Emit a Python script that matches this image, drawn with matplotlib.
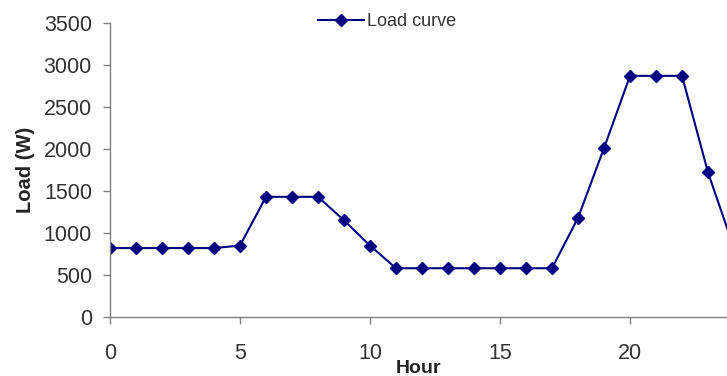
import matplotlib
matplotlib.use('Agg')
import matplotlib.pyplot as plt

# Hourly load profile
hours = list(range(25))
load = [820, 820, 820, 820, 820, 850, 1430, 1430, 1430, 1150, 850,
        580, 580, 580, 580, 580, 580, 580, 1180, 2010, 2870, 2870, 2870,
        1720, 820]
x_ticks = [0, 5, 10, 15, 20]
y_ticks = [0, 500, 1000, 1500, 2000, 2500, 3000, 3500]

plt.rcParams['font.family'] = ['Liberation Sans', 'DejaVu Sans']

fig = plt.figure(figsize=(7.27, 3.76), dpi=100)
ax = fig.add_axes([0.1513, 0.157, 0.8487, 0.782])

ax.plot(hours, load, color='#000080', marker='D', markersize=6,
        linewidth=1.5, label='Load curve')

ax.set_xlim(0, 23.73)
ax.set_ylim(0, 3500)
ax.set_xticks(x_ticks)
ax.set_yticks(y_ticks)

for side in ['top', 'right']:
    ax.spines[side].set_visible(False)
for side in ['left', 'bottom']:
    ax.spines[side].set_color('#808080')
    ax.spines[side].set_linewidth(1.0)

ax.tick_params(axis='both', colors='#808080', length=5, width=1.0,
               labelsize=15.5, labelcolor='#333333', direction='out')
ax.tick_params(axis='x', pad=14)
ax.tick_params(axis='y', pad=8)

ax.set_xlabel('Hour', fontsize=14, fontweight='bold', color='#222222',
              labelpad=-3)
ax.set_ylabel('Load (W)', fontsize=14.5, fontweight='bold', color='#222222',
              labelpad=6)

fig.legend(loc='center left', bbox_to_anchor=(0.428, 0.943), frameon=False,
           fontsize=13, handlelength=2.5, handletextpad=0.2,
           borderaxespad=0, labelcolor='#333333')

fig.savefig('out.png', dpi=100)
